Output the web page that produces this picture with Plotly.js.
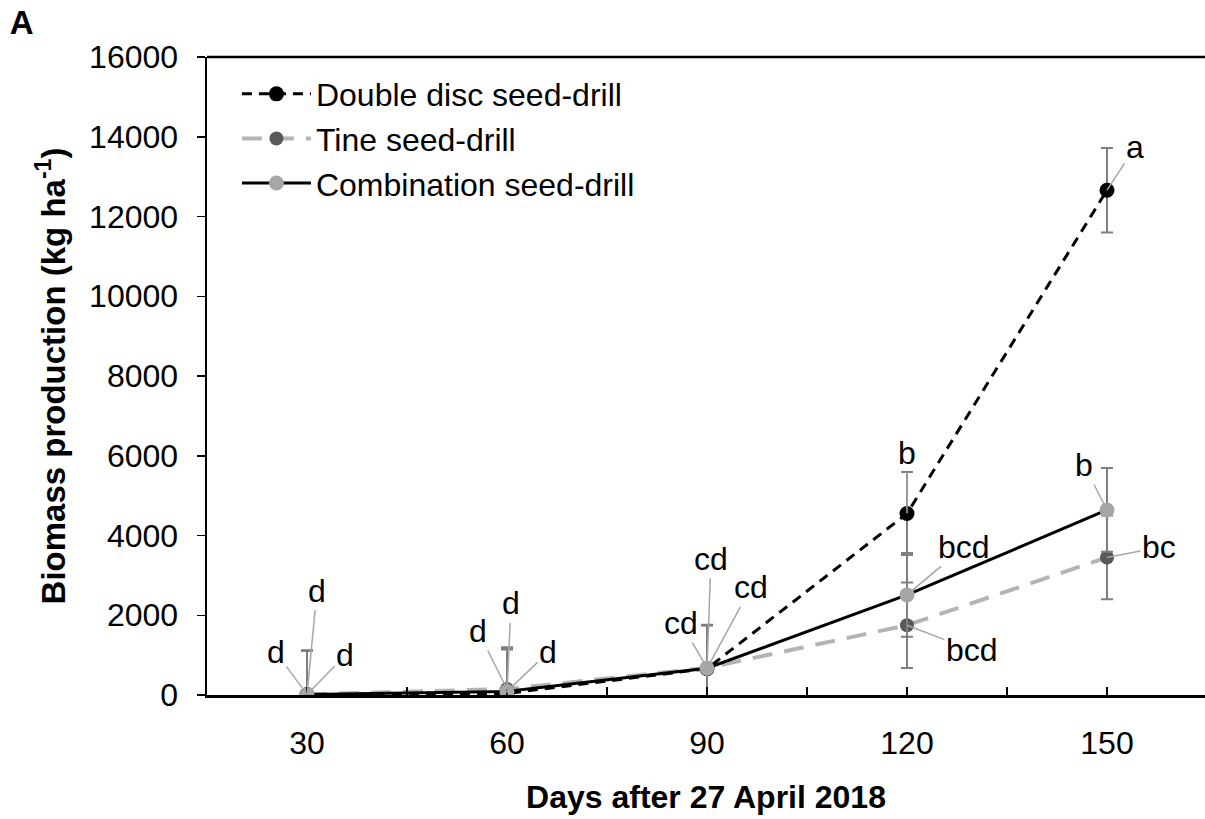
<!DOCTYPE html>
<html>
<head>
<meta charset="utf-8">
<script src="https://cdn.plot.ly/plotly-3.0.1.min.js"></script>
<style>html,body{margin:0;padding:0;background:#fff;overflow:hidden;}#chart{width:1205px;height:819px;}</style>
</head>
<body>
<div id="chart"></div>
<script>
// ---- data ----
const days = [30, 60, 90, 120, 150];
const doubleDisc = [10, 40, 660, 4550, 12660];
const tine = [15, 150, 680, 1750, 3450];
const combination = [15, 90, 670, 2510, 4640];
const doubleDiscErr = [1100, 1100, 1080, 1040, 1060];
const tineErr = [1100, 1050, 1080, 1070, 1050];
const combinationErr = [1100, 1080, 1080, 1050, 1050];
const doubleDiscLetters = ['d', 'd', 'cd', 'b', 'a'];
const tineLetters = ['d', 'd', 'cd', 'bcd', 'bc'];
const combinationLetters = ['d', 'd', 'cd', 'bcd', 'b'];
const xTickLabels = ['30', '60', '90', '120', '150'];

// label offsets in pixels (layout only)
const ddOffsets = [[10, -104], [4, -90], [4, -110], [0, -61], [28, -43]];
const tineOffsets = [[-31, -42], [-29, -58], [-26, -45], [65, 25], [52, -10]];
const comboOffsets = [[38, -39], [41, -39], [44, -81], [57, -48], [-23, -45]];

const FONT = 'Liberation Sans, Arial, sans-serif';
const FS = 32;
const errStyle = {type: 'data', color: '#7f7f7f', thickness: 2, width: 6, visible: true};

const traces = [
  {
    x: days, y: doubleDisc, name: 'Double disc seed-drill', type: 'scatter', mode: 'lines+markers',
    line: {color: '#000000', width: 3, dash: '10px,7px'},
    marker: {color: '#000000', size: 15},
    error_y: Object.assign({array: doubleDiscErr}, errStyle)
  },
  {
    x: days, y: tine, name: 'Tine seed-drill', type: 'scatter', mode: 'lines+markers',
    line: {color: '#b4b4b4', width: 4, dash: '20px,12px'},
    marker: {color: '#595959', size: 14},
    error_y: Object.assign({array: tineErr}, errStyle)
  },
  {
    x: days, y: combination, name: 'Combination seed-drill', type: 'scatter', mode: 'lines+markers',
    line: {color: '#000000', width: 3},
    marker: {color: '#a6a6a6', size: 15},
    error_y: Object.assign({array: combinationErr}, errStyle)
  }
];

const annotations = [];
function addLabels(yv, letters, offs) {
  for (let i = 0; i < days.length; i++) {
    annotations.push({
      x: days[i], y: yv[i], xref: 'x', yref: 'y', text: letters[i],
      showarrow: true, arrowhead: 0, arrowwidth: 1.5, arrowcolor: '#a6a6a6',
      ax: offs[i][0], ay: offs[i][1], standoff: 0, startstandoff: 0,
      font: {family: FONT, size: FS, color: '#000'}
    });
  }
}
addLabels(doubleDisc, doubleDiscLetters, ddOffsets);
addLabels(tine, tineLetters, tineOffsets);
addLabels(combination, combinationLetters, comboOffsets);

const layout = {
  width: 1205, height: 819,
  margin: {l: 207, r: 0, t: 57, b: 124},
  paper_bgcolor: '#fff', plot_bgcolor: '#fff',
  font: {family: FONT, size: FS, color: '#000'},
  title: {text: '<b>A</b>', font: {family: FONT, size: 33, color: '#000'},
          xref: 'container', yref: 'container', x: 0.008, y: 0.972, xanchor: 'left', yanchor: 'middle'},
  showlegend: true,
  legend: {x: 0.03, y: 0.985, xanchor: 'left', yanchor: 'top', bgcolor: 'rgba(0,0,0,0)',
           font: {family: FONT, size: FS, color: '#000'}, itemwidth: 69, tracegroupgap: 0},
  xaxis: {
    range: [15, 164.7], tickmode: 'array', tickvals: days, ticktext: xTickLabels,
    ticks: 'inside', ticklen: 8, tickwidth: 1.5, tickcolor: '#000',
    minor: {ticks: 'inside', tick0: 15, dtick: 15, ticklen: 8, tickwidth: 1.5, tickcolor: '#000', showgrid: false},
    showline: true, linecolor: '#000', linewidth: 2.5, mirror: false,
    showgrid: false, zeroline: false, ticklabelstandoff: 18,
    tickfont: {family: FONT, size: FS, color: '#000'},
    title: {text: '<b>Days after 27 April 2018</b>', font: {family: FONT, size: FS, color: '#000'}, standoff: 26}
  },
  yaxis: {
    range: [0, 16000], dtick: 2000, tick0: 0, tickformat: 'd', side: 'left',
    ticks: 'outside', ticklen: 8, tickwidth: 1.5, tickcolor: '#000',
    showline: true, linecolor: '#000', linewidth: 2.5, mirror: false,
    showgrid: false, zeroline: false, ticklabelstandoff: 12,
    tickfont: {family: FONT, size: FS, color: '#000'},
    title: {text: '<b>Biomass production (kg ha<sup>-1</sup>)</b>', font: {family: FONT, size: 33, color: '#000'}, standoff: 14}
  },
  shapes: [
    {type: 'line', xref: 'paper', yref: 'paper', x0: 0, x1: 1, y0: 1, y1: 1,
     line: {color: '#000', width: 2.5}, layer: 'above'}
  ],
  annotations: annotations
};

Plotly.newPlot('chart', traces, layout, {displayModeBar: false, staticPlot: true});
</script>
</body>
</html>
